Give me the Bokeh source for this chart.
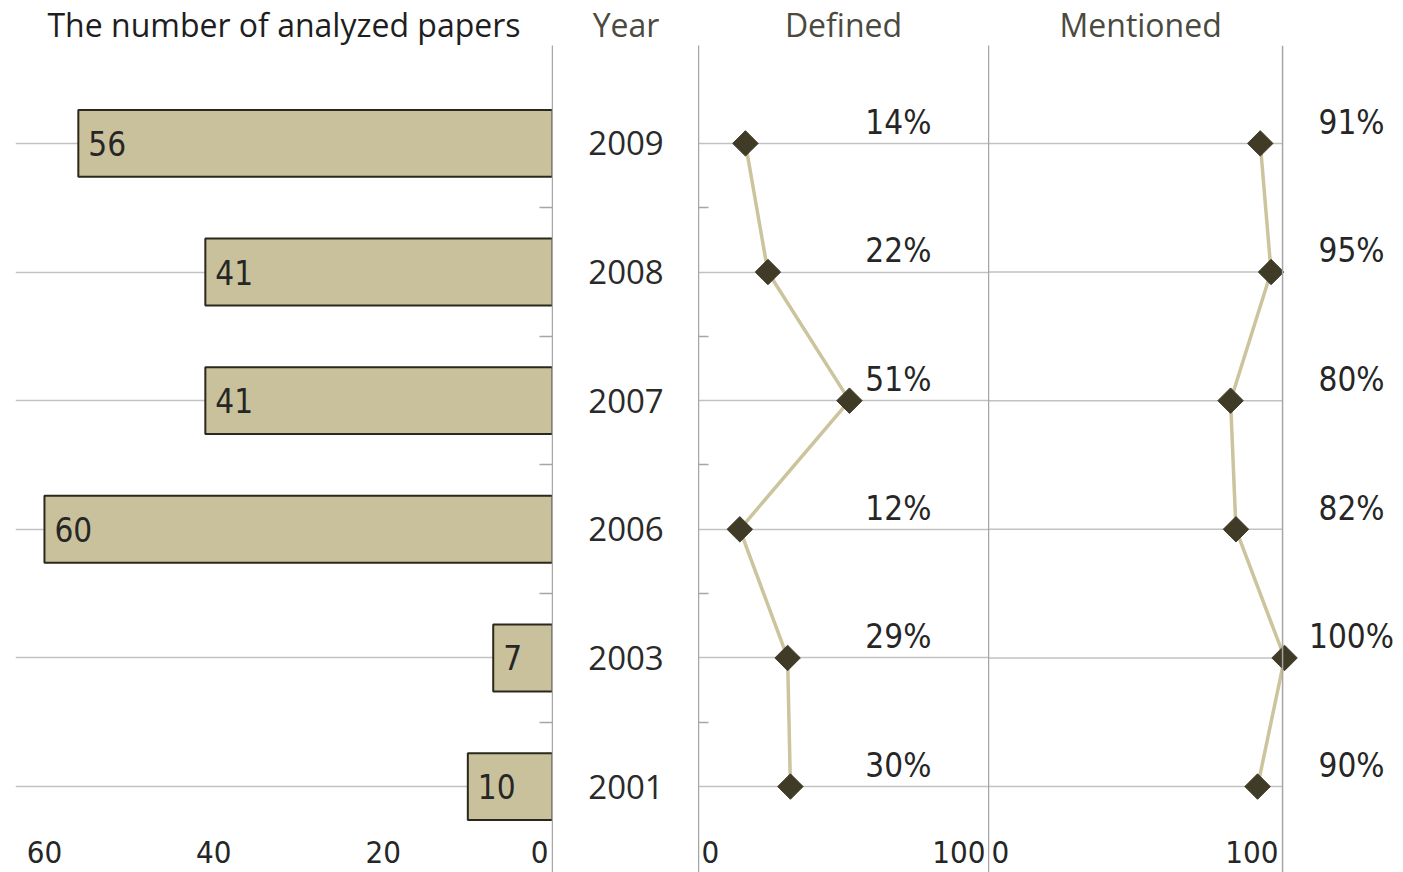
from bokeh.plotting import figure
from bokeh.models import Range1d, LinearAxis, FixedTicker, Span, Grid, ColumnDataSource
from bokeh.layouts import row
from bokeh.embed import file_html
from bokeh.resources import INLINE
from bokeh.core.properties import value

# ---------------- data ----------------
years = ["2009", "2008", "2007", "2006", "2003", "2001"]
papers = [56, 41, 41, 60, 7, 10]
defined = [14, 22, 51, 12, 29, 30]
mentioned = [91, 95, 80, 82, 100, 90]
bar_ticks = [60, 40, 20, 0]
pct_ticks = ["0", "100"]

# ---------------- styles / layout ----------------
BAR_FILL = "#c9c19b"
BAR_EDGE = "#2a281c"
LINE_C = "#cbc49c"
MARK_C = "#3f3b27"
GRID_C = "#c2c2c2"
AXIS_C = "#a6a6a6"
TXT = "#262626"
HEAD = "#4a4a3e"
NUM_FONT = value("DejaVu Sans Condensed")
NUM_SIZE = "33px"
TICK_SIZE = "31px"
TITLE_FONT = "Open Sans"
TITLE_SIZE = "32px"

H = 872
TOP = 44
LABEL_DY = 0.165

idx = list(range(len(years)))
bounds = [i + 0.5 for i in idx[:-1]]
Y_RANGE = Range1d(5.668, -0.761)
Y_BOTTOM = Y_RANGE.start

D_RANGE = (-2.70, 100.47)
D_LABEL_X = 68.4
M_RANGE = (-9.63, 143.3)
M_AXIS = 99.26
M_LABEL_X = 124.8


def base(width, x_range, title, left=0, right=0, title_color=HEAD):
    p = figure(width=width, height=H, x_range=x_range, y_range=Y_RANGE,
               x_axis_location=None, y_axis_location=None,
               toolbar_location=None, output_backend="svg",
               min_border_left=left, min_border_right=right,
               min_border_top=TOP, min_border_bottom=0,
               outline_line_color=None, title=title)
    p.grid.visible = False
    p.title.text_font = TITLE_FONT
    p.title.text_font_size = TITLE_SIZE
    p.title.text_font_style = "normal"
    p.title.text_color = title_color
    p.title.align = "center"
    p.title.standoff = 0
    return p


def cat_grid(p):
    p.add_layout(Grid(dimension=1, ticker=FixedTicker(ticks=idx),
                      grid_line_color=GRID_C, grid_line_width=1.5))


def edge_axis(p, side, tick_len):
    ax = LinearAxis(ticker=FixedTicker(ticks=[], minor_ticks=bounds if tick_len else []),
                    axis_line_color=AXIS_C, axis_line_width=1.5,
                    major_tick_in=0, major_tick_out=0,
                    minor_tick_in=tick_len, minor_tick_out=0,
                    minor_tick_line_color=AXIS_C if tick_len else None,
                    minor_tick_line_width=1.5,
                    major_label_standoff=0)
    p.add_layout(ax, side)


def tick_text(p, x, label, align, dx):
    p.text(x=[x], y=[Y_BOTTOM], text=[label], x_offset=dx, y_offset=-10,
           text_align=align, text_baseline="bottom",
           text_font=NUM_FONT, text_font_size=TICK_SIZE, text_color=TXT)


# ---------------- bar panel ----------------
pa = base(553, Range1d(63.42, 0), "The number of analyzed papers", left=15, right=1,
          title_color="#1e1e1e")
cat_grid(pa)
edge_axis(pa, "right", 13)
src_a = ColumnDataSource(dict(y=idx, v=papers, t=[str(v) for v in papers]))
pa.hbar(y="y", left=0, right="v", height=0.52, source=src_a,
        fill_color=BAR_FILL, line_color=BAR_EDGE, line_width=2)
pa.text(x="v", y="y", text="t", source=src_a, x_offset=10,
        text_align="left", text_baseline="middle",
        text_font=NUM_FONT, text_font_size=NUM_SIZE, text_color=TXT)
for t in bar_ticks[:-1]:
    tick_text(pa, t, str(t), "center", 0)
tick_text(pa, bar_ticks[-1], str(bar_ticks[-1]), "right", -4)

# ---------------- year column ----------------
py = base(145, Range1d(0, 1), "Year")
py.text(x=[0.5] * len(years), y=idx, text=years,
        text_align="center", text_baseline="middle",
        text_font=value("Open Sans"), text_font_size="33px", text_color="#2a2a2a")

# ---------------- defined panel ----------------
pd_ = base(290, Range1d(*D_RANGE), "Defined")
cat_grid(pd_)
edge_axis(pd_, "left", 10)
src_d = ColumnDataSource(dict(x=defined, y=idx, ly=[i - LABEL_DY for i in idx],
                              lx=[D_LABEL_X] * len(idx),
                              t=[f"{v}%" for v in defined]))
pd_.line(x="x", y="y", source=src_d, line_color=LINE_C, line_width=3.5)
pd_.scatter(x="x", y="y", source=src_d, marker="square", angle=0.7854, size=18,
            fill_color=MARK_C, line_color=MARK_C)
pd_.text(x="lx", y="ly", text="t", source=src_d, text_align="center",
         text_baseline="middle", text_font=NUM_FONT, text_font_size=NUM_SIZE,
         text_color=TXT)
tick_text(pd_, D_RANGE[0], pct_ticks[0], "left", 3)
tick_text(pd_, D_RANGE[1], pct_ticks[1], "right", -3)

# ---------------- mentioned panel ----------------
pm = base(413, Range1d(*M_RANGE), "Mentioned")
pm.title.align = "left"
pm.title.offset = 71
edge_axis(pm, "left", 0)
pm.add_layout(Span(location=M_AXIS, dimension="height",
                   line_color=AXIS_C, line_width=1.5))
pm.segment(x0=[M_RANGE[0]] * len(idx), x1=[M_AXIS] * len(idx), y0=idx, y1=idx,
           line_color=GRID_C, line_width=1.5)
src_m = ColumnDataSource(dict(x=mentioned, y=idx, ly=[i - LABEL_DY for i in idx],
                              lx=[M_LABEL_X] * len(idx),
                              t=[f"{v}%" for v in mentioned]))
pm.line(x="x", y="y", source=src_m, line_color=LINE_C, line_width=3.5)
pm.scatter(x="x", y="y", source=src_m, marker="square", angle=0.7854, size=18,
           fill_color=MARK_C, line_color=MARK_C)
pm.text(x="lx", y="ly", text="t", source=src_m, text_align="center",
        text_baseline="middle", text_font=NUM_FONT, text_font_size=NUM_SIZE,
        text_color=TXT)
tick_text(pm, M_RANGE[0], pct_ticks[0], "left", 3)
tick_text(pm, M_AXIS, pct_ticks[1], "right", -4)

layout = row(pa, py, pd_, pm)
open("out.html", "w").write(file_html(layout, INLINE))
